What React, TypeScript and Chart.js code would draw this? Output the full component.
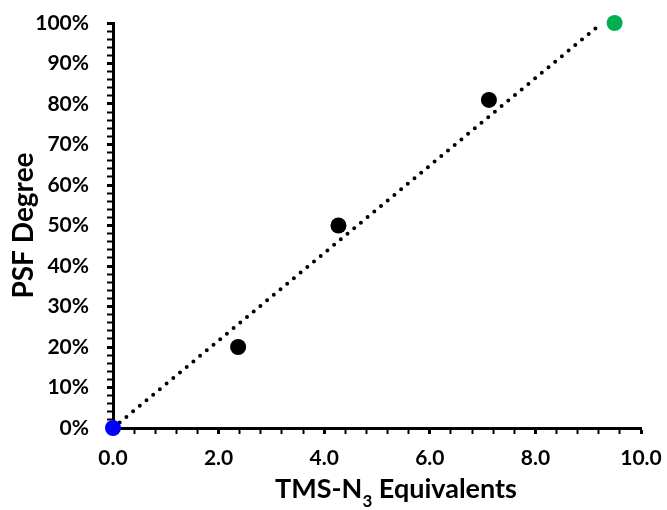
import React, { useEffect, useRef } from "react";
import { Chart, registerables } from "chart.js";

Chart.register(...registerables);

// Data
const blackX = [2.37, 4.27, 7.12];
const blackY = [20, 50, 81];
const startX = [0];
const startY = [0];
const endX = [9.5];
const endY = [100];
const trendX = [0, 9.26];
const trendY = [0, 100];

const xMajorLabels = ["0.0", "2.0", "4.0", "6.0", "8.0", "10.0"];
const yMajorLabels = ["0%", "10%", "20%", "30%", "40%", "50%", "60%", "70%", "80%", "90%", "100%"];

const FONT = "Lato, 'Open Sans', sans-serif";

const zip = (xs: number[], ys: number[]) => xs.map((x, i) => ({ x, y: ys[i] }));

export default function App() {
  const ref = useRef<HTMLCanvasElement | null>(null);

  useEffect(() => {
    if (!ref.current) return;
    const isMajorX = (v: number) => Math.abs(v / 2 - Math.round(v / 2)) < 1e-6;
    const isMajorY = (v: number) => Math.abs(v / 10 - Math.round(v / 10)) < 1e-6;
    const chart = new Chart(ref.current, {
      type: "scatter",
      data: {
        datasets: [
          {
            type: "line",
            label: "Trend",
            data: zip(trendX, trendY),
            borderColor: "#000",
            borderWidth: 4,
            borderDash: [0, 8.7],
            borderCapStyle: "round",
            pointRadius: 0,
            fill: false,
            order: 5,
          } as any,
          {
            label: "Start",
            data: zip(startX, startY),
            backgroundColor: "#0000FF",
            borderWidth: 0,
            pointRadius: 8,
            clip: false,
            order: 1,
          } as any,
          {
            label: "Samples",
            data: zip(blackX, blackY),
            backgroundColor: "#000000",
            borderWidth: 0,
            pointRadius: 8,
            clip: false,
            order: 1,
          } as any,
          {
            label: "End",
            data: zip(endX, endY),
            backgroundColor: "#00B050",
            borderWidth: 0,
            pointRadius: 8,
            clip: false,
            order: 1,
          } as any,
        ],
      },
      options: {
        animation: false,
        responsive: true,
        maintainAspectRatio: false,
        layout: { padding: { top: 23, right: 26, left: 0, bottom: 0 } },
        plugins: { legend: { display: false }, tooltip: { enabled: false } },
        scales: {
          x: {
            type: "linear",
            min: 0,
            max: 10,
            afterFit: (s: any) => {
              s.height = 82;
              s.paddingLeft = 0;
              s.paddingRight = 0;
              s.paddingTop = 0;
              s.paddingBottom = 0;
            },
            border: { display: true, color: "#000", width: 3 },
            grid: {
              display: true,
              drawOnChartArea: false,
              drawTicks: true,
              tickLength: 6,
              tickColor: "#000",
              tickWidth: (ctx: any) => (ctx.tick && isMajorX(ctx.tick.value) ? 3 : 2),
            },
            ticks: {
              stepSize: 0.4,
              autoSkip: false,
              maxRotation: 0,
              padding: 12,
              color: "#000",
              font: { family: FONT, size: 21, weight: "bold" },
              callback: (v: any) => {
                const n = Number(v);
                return isMajorX(n) ? xMajorLabels[Math.round(n / 2)] : "";
              },
            },
            title: { display: false },
          },
          y: {
            type: "linear",
            min: 0,
            max: 100,
            afterFit: (s: any) => {
              s.width = 113;
              s.paddingLeft = 0;
              s.paddingRight = 0;
              s.paddingTop = 0;
              s.paddingBottom = 0;
            },
            border: { display: true, color: "#000", width: 3 },
            grid: {
              display: true,
              drawOnChartArea: false,
              drawTicks: true,
              tickLength: 6,
              tickColor: "#000",
              tickWidth: (ctx: any) => (ctx.tick && isMajorY(ctx.tick.value) ? 3 : 2),
            },
            ticks: {
              stepSize: 2,
              autoSkip: false,
              padding: 18,
              color: "#000",
              font: { family: FONT, size: 21, weight: "bold" },
              callback: (v: any) => {
                const n = Number(v);
                return isMajorY(n) ? yMajorLabels[Math.round(n / 10)] : "";
              },
            },
            title: {
              display: true,
              text: "PSF Degree",
              color: "#000",
              font: { family: FONT, size: 28, weight: "bold" },
              padding: { top: 7, bottom: 0 },
            },
          },
        },
      },
    });
    return () => chart.destroy();
  }, []);

  return (
    <div style={{ position: "absolute", left: 0, top: 0, width: 667, height: 510 }}>
      <canvas ref={ref} />
      <div
        style={{
          position: "absolute",
          left: 196,
          top: 474,
          width: 400,
          textAlign: "center",
          fontFamily: FONT,
          fontWeight: "bold",
          fontSize: 27,
          lineHeight: "27px",
          color: "#000",
          whiteSpace: "nowrap",
        }}
      >
        TMS-N
        <span style={{ fontSize: 17, position: "relative", top: 9 }}>3</span> Equivalents
      </div>
    </div>
  );
}
